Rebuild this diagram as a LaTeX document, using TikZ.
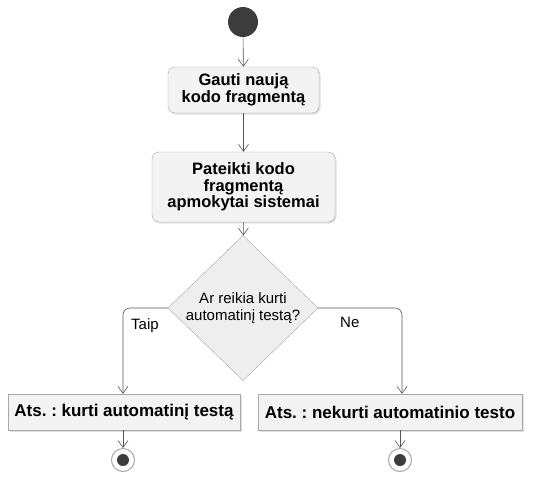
\documentclass[tikz,border=0pt]{standalone}
\usepackage{fontspec}
\setmainfont{Liberation Sans}
\usetikzlibrary{arrows.meta,shapes.geometric,shadows}
\definecolor{boxfill}{HTML}{F3F3F3}
\definecolor{decfill}{HTML}{EEEEEE}
\definecolor{boxline}{HTML}{A8A8A8}
\definecolor{flow}{HTML}{555555}
\definecolor{dot}{HTML}{3C3C3C}
\frenchspacing
\begin{document}
\begin{tikzpicture}[x=1pt,y=-1pt,
  action/.style={draw=boxline, fill=boxfill, rounded corners=7pt, align=center,
    font=\bfseries\fontsize{16.5}{16.5}\selectfont, inner sep=0pt,
    drop shadow={opacity=0.25, shadow xshift=1.5pt, shadow yshift=-1.5pt}},
  result/.style={draw=boxline, fill=boxfill, align=center,
    font=\bfseries\fontsize{17}{20}\selectfont, inner sep=0pt,
    drop shadow={opacity=0.25, shadow xshift=1.5pt, shadow yshift=-1.5pt}},
  decision/.style={diamond, draw=boxline, fill=decfill, align=center,
    font=\fontsize{15}{17}\selectfont, inner sep=0pt,
    minimum width=150pt, minimum height=88pt},
  flowline/.style={draw=flow, line width=0.6pt,
    -{Straight Barb[length=7pt,width=10pt,line width=0.6pt]}},
  lbl/.style={font=\fontsize{15}{17}\selectfont, inner sep=0pt, anchor=west}
]
\useasboundingbox (0,0) rectangle (534,477);

% initial node
\node[circle, fill=dot, minimum size=30pt, inner sep=0pt] (start) at (243,22) {};

% actions
\node[action, minimum width=151pt, minimum height=46pt] (get) at (243.5,90)
  {Gauti naują\\kodo fragmentą};
\node[action, minimum width=183pt, minimum height=70pt] (give) at (243.5,187)
  {Pateikti kodo\\fragmentą\\apmokytai sistemai};

% decision
\node[decision] (dec) at (243,308) {Ar reikia kurti\\automatinį testą?};

% results
\node[result, minimum width=232pt, minimum height=36pt] (yes) at (124,412)
  {Ats. : kurti automatinį testą};
\node[result, minimum width=264pt, minimum height=36pt] (no) at (390,412)
  {Ats. : nekurti automatinio testo};

% final nodes
\node[circle, draw=boxline, fill=white, line width=1pt, minimum size=23pt, inner sep=0pt] (endyes) at (123,460) {};
\fill[dot] (endyes.center) circle (6pt);
\node[circle, draw=boxline, fill=white, line width=1pt, minimum size=23pt, inner sep=0pt] (endno) at (400,460) {};
\fill[dot] (endno.center) circle (6pt);

% branch columns
\coordinate (ycol) at (123,308);
\coordinate (ncol) at (402,308);

% flows
\draw[flowline] (start) -- (get);
\draw[flowline] (get) -- (give);
\draw[flowline] (give) -- (dec);
\draw[flowline, rounded corners=7pt] (dec.west) -- (ycol) -- (ycol |- yes.north);
\draw[flowline, rounded corners=7pt] (dec.east) -- (ncol) -- (ncol |- no.north);
\draw[flowline] (yes.south -| endyes) -- (endyes);
\draw[flowline] (no.south -| endno) -- (endno);

% guards
\node[lbl] (taip) at (131,326) {Taip};
\node[lbl] (ne) at (340,322) {Ne};
\end{tikzpicture}
\end{document}
